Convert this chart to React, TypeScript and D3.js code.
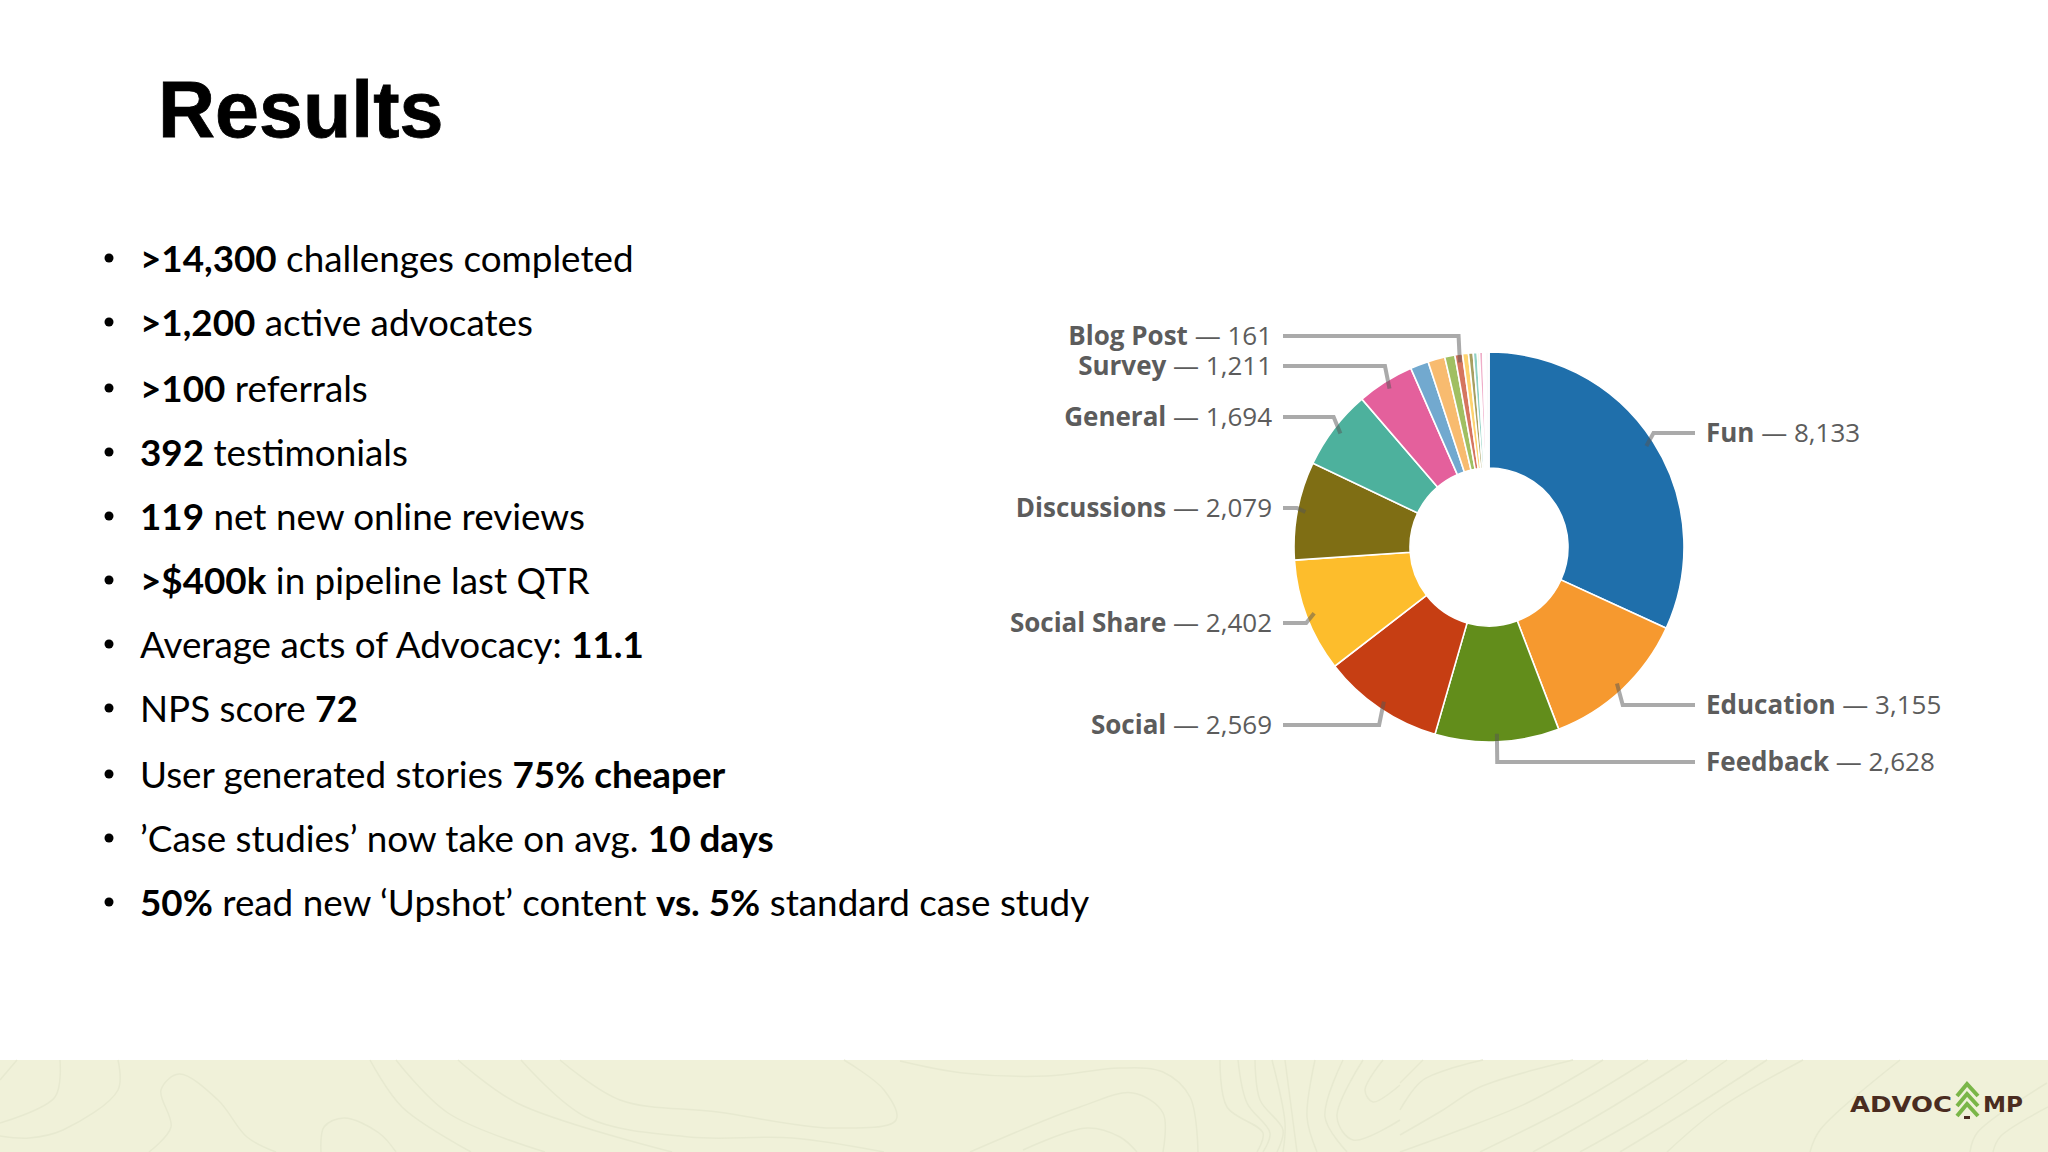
import React, { useEffect, useRef } from 'react';
import * as d3 from 'd3';

const categories = ['Fun', 'Education', 'Feedback', 'Social', 'Social Share', 'Discussions', 'General', 'Survey',
    'Other 1', 'Other 2', 'Other 3', 'Blog Post', 'Other 4', 'Other 5', 'Other 6', 'Other 7', 'Other 8', 'Other 9', 'Other 10', 'Other 11'];
const values = [8133, 3155, 2628, 2569, 2402, 2079, 1694, 1211, 385, 360, 215, 161, 125, 100, 85, 45, 70, 30, 25, 75];
const colors = ['#1f6fab', '#f6992f', '#628d1b', '#c63e13', '#fdbd2c', '#7f6e14', '#4db19d', '#e4609c',
    '#72a9cf', '#f8bb6f', '#a0bf62', '#d5755f', '#fed36f', '#a79f60', '#8fd0c2', '#f5f1c8', '#efadc8', '#f4f4f4', '#d8d8d8', '#fafafa'];

// only these slices carry a label, with the y of the label line
const labelled: [string, number][] = [
    ['Fun', 433], ['Education', 705], ['Feedback', 762], ['Social', 725], ['Social Share', 623],
    ['Discussions', 508], ['General', 417], ['Survey', 366], ['Blog Post', 336],
];

type Part = [string, boolean];
const bullets: Part[][] = [
    [['>14,300', true], [' challenges completed', false]],
    [['>1,200', true], [' active advocates', false]],
    [['>100', true], [' referrals', false]],
    [['392', true], [' testimonials', false]],
    [['119', true], [' net new online reviews', false]],
    [['>$400k', true], [' in pipeline last QTR', false]],
    [['Average acts of Advocacy: ', false], ['11.1', true]],
    [['NPS score ', false], ['72', true]],
    [['User generated stories ', false], ['75% cheaper', true]],
    [['\u2019Case studies\u2019 now take on avg. ', false], ['10 days', true]],
    [['50%', true], [' read new \u2018Upshot\u2019 content ', false], ['vs. 5%', true], [' standard case study', false]],
];
const bulletY = [272, 336, 402, 466, 530, 594, 658, 722, 788, 852, 916];

// background contour lines of the footer
const contours: [number, number][][] = [
    [[17, 1060], [0, 1080]],
    [[60, 1060], [55, 1097], [0, 1123]],
    [[118, 1060], [118, 1090], [63, 1130], [29, 1138], [0, 1136]],
    [[149, 1152], [171, 1127], [161, 1090], [179, 1074], [218, 1100], [247, 1137], [276, 1152]],
    [[321, 1152], [324, 1127], [344, 1118], [379, 1133], [396, 1152]],
    [[370, 1060], [402, 1107], [471, 1152]],
    [[396, 1060], [448, 1113], [545, 1152]],
    [[458, 1060], [517, 1103], [672, 1152]],
    [[521, 1060], [586, 1117], [689, 1137], [792, 1138], [884, 1152]],
    [[560, 1060], [620, 1100], [718, 1112], [832, 1128], [896, 1120], [884, 1090], [844, 1060]],
    [[900, 1061], [963, 1073], [1047, 1076], [1120, 1068], [1163, 1072], [1190, 1097], [1198, 1152]],
    [[970, 1152], [1080, 1107], [1133, 1093], [1163, 1113], [1163, 1152]],
    [[1023, 1150], [1087, 1128], [1120, 1137], [1137, 1152]],
    [[1220, 1060], [1227, 1107], [1263, 1133], [1257, 1152]],
    [[1238, 1060], [1247, 1103], [1270, 1133], [1263, 1152]],
    [[1255, 1060], [1260, 1100], [1283, 1130], [1277, 1152]],
    [[1272, 1060], [1285, 1123], [1283, 1152]],
    [[1285, 1060], [1297, 1152]],
    [[1315, 1060], [1307, 1117], [1317, 1152]],
    [[1343, 1060], [1325, 1117], [1347, 1152]],
    [[1363, 1060], [1337, 1117], [1353, 1140], [1400, 1120]],
    [[1383, 1060], [1365, 1090], [1373, 1102], [1400, 1085]],
    [[1423, 1060], [1400, 1083]],
    [[1483, 1060], [1423, 1080], [1400, 1110]],
    [[1573, 1060], [1480, 1087], [1443, 1110], [1400, 1135]],
    [[1603, 1060], [1527, 1103], [1460, 1130], [1400, 1152]],
    [[1648, 1060], [1577, 1103], [1480, 1152]],
    [[1687, 1060], [1607, 1110], [1533, 1152]],
    [[1727, 1060], [1653, 1110], [1580, 1152]],
    [[1767, 1060], [1700, 1103], [1620, 1152]],
    [[1803, 1060], [1717, 1110], [1667, 1152]],
    [[1900, 1060], [1820, 1130], [1810, 1152]],
    [[2047, 1083], [1977, 1133], [1970, 1152]],
    [[2048, 1107], [2000, 1137], [1993, 1152]],
];

const App: React.FC = () => {
    const chartRef = useRef<SVGGElement | null>(null);

    useEffect(() => {
        if (!chartRef.current) return;
        const g = d3.select(chartRef.current);
        g.selectAll('*').remove();
        const outer = 195;
        const inner = 79;
        const anchorR = 187;

        const pie = d3.pie<number>().value(d => d).sort(null);
        const arc = d3.arc<any>().innerRadius(inner).outerRadius(outer);
        const arcs = pie(values);

        g.selectAll('path.slice')
            .data(arcs)
            .enter().append('path')
            .attr('class', 'slice')
            .attr('d', arc as any)
            .attr('fill', (_d, i) => colors[i])
            .attr('stroke', '#fff')
            .attr('stroke-width', 1.6);

        labelled.forEach(([name, y]) => {
            const i = categories.indexOf(name);
            const mid = (arcs[i].startAngle + arcs[i].endAngle) / 2;
            const ax = anchorR * Math.sin(mid);
            const ay = -anchorR * Math.cos(mid);
            const ex = ax + 8.5 * Math.sin(mid);
            const right = mid < Math.PI;
            const ly = y - 547;
            const endX = right ? 206 : -206;
            g.append('path')
                .attr('d', d3.line()([[endX, ly], [ex, ly], [ax, ay]]) as string)
                .attr('fill', 'none')
                .attr('stroke', '#555')
                .attr('stroke-opacity', 0.5)
                .attr('stroke-width', 4);

            const t = g.append('text')
                .attr('x', right ? 217 : -217)
                .attr('y', ly + 9)
                .attr('text-anchor', right ? 'start' : 'end')
                .style('font-family', '"Open Sans"')
                .style('font-size', '26px')
                .style('fill', '#5c5c5c');
            t.append('tspan').style('font-weight', 700).text(name);
            t.append('tspan').text(` \u2014 ${d3.format(',')(values[i])}`);
        });
    }, []);

    const contourLine = d3.line().curve(d3.curveCatmullRom.alpha(0.5));

    return (
        <svg width={2048} height={1152} style={{ position: 'absolute', left: 0, top: 0, background: '#fff' }}>
            <text x={158} y={137} stroke="#000" strokeWidth={0.8} style={{ fontFamily: '"Liberation Sans"', fontWeight: 700, fontSize: 79 }} fill="#000">Results</text>
            {bullets.map((parts, i) => (
                <g key={i}>
                    <circle cx={109} cy={bulletY[i] - 14} r={4.5} fill="#000" />
                    <text x={140} y={bulletY[i]} style={{ fontFamily: 'Lato', fontSize: 36.8 }} fill="#000">
                        {parts.map(([s, bold], j) => (
                            <tspan key={j} style={{ fontWeight: bold ? 700 : 400 }} xmlSpace="preserve">{s}</tspan>
                        ))}
                    </text>
                </g>
            ))}
            <g ref={chartRef} transform="translate(1489,547)" />
            <rect x={0} y={1060} width={2048} height={92} fill="#f0f1d9" />
            {contours.map((pts, i) => (
                <path key={i} d={contourLine(pts) as string} fill="none" stroke="#e7e9d0" strokeWidth={1.5} />
            ))}
            <g style={{ fontFamily: '"DejaVu Sans"', fontWeight: 700, fontSize: 21 }} fill="#4a2c20">
                <text x={1850} y={1112} textLength={102} lengthAdjust="spacingAndGlyphs">ADVOC</text>
                <text x={1983} y={1112} textLength={40} lengthAdjust="spacingAndGlyphs">MP</text>
            </g>
            {[1084, 1094, 1104].map(y => (
                <path key={y} d={`M1957,${y + 12} L1967,${y} L1978,${y + 12}`} fill="none" stroke="#7ab648" strokeWidth={4} />
            ))}
            <rect x={1964} y={1116} width={6} height={3} fill="#4a2c20" />
        </svg>
    );
};

export default App;
